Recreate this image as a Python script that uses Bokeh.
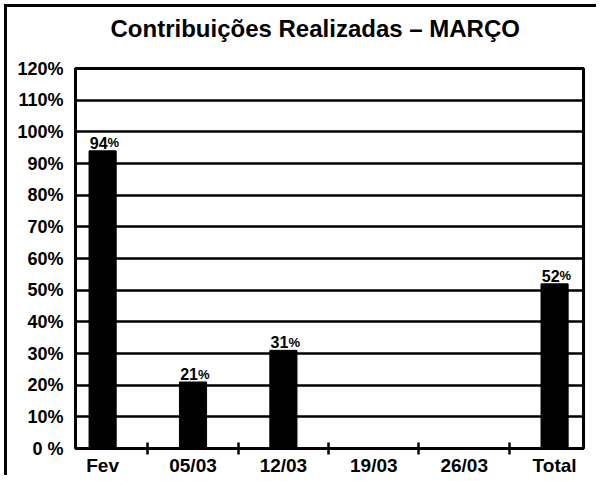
import math
from bokeh.plotting import figure
from bokeh.models import ColumnDataSource, FixedTicker, Range1d, Title
from bokeh.core.properties import value
from bokeh.embed import file_html
from bokeh.resources import INLINE

# ---- data ----
title_text = "Contribuições Realizadas – MARÇO"
categories = ["Fev", "05/03", "12/03", "19/03", "26/03", "Total"]
percent_values = [94, 21, 31, float("nan"), float("nan"), 52]
y_ticks = [0, 10, 20, 30, 40, 50, 60, 70, 80, 90, 100, 110, 120]
y_tick_labels = ["0 %", "10%", "20%", "30%", "40%", "50%", "60%",
                 "70%", "80%", "90%", "100%", "110%", "120%"]

FONT = "Liberation Sans"

idx = list(range(len(categories)))
src = ColumnDataSource(dict(x=idx, top=percent_values))

lx = [i for i, v in zip(idx, percent_values) if not math.isnan(v)]
lv = [v for v in percent_values if not math.isnan(v)]
lab_src = ColumnDataSource(dict(x=lx, y=lv,
                                num=[str(int(v)) for v in lv],
                                pct=["%"] * len(lv)))

p = figure(width=592, height=471, output_backend="svg", toolbar_location=None,
           title=None,
           x_range=Range1d(-0.30, 5.32), y_range=Range1d(0, 120),
           min_border_left=68, min_border_right=16,
           min_border_top=61, min_border_bottom=28)

p.styles = {"border-left": "3px solid black", "border-top": "3px solid black",
            "margin-left": "4px", "margin-top": "4px"}

# spacer (closest to the frame) then the real title above it
p.add_layout(Title(text=" ", text_font=FONT, text_font_size="16px",
                   standoff=8), "above")
p.add_layout(Title(text=title_text, text_font=FONT, text_font_style="bold",
                   text_font_size="24px", text_color="black",
                   align="left", offset=35, standoff=0), "above")

p.outline_line_color = "black"
p.outline_line_width = 3
p.background_fill_color = "white"
p.border_fill_color = "white"

p.xgrid.grid_line_color = None
p.ygrid.ticker = FixedTicker(ticks=y_ticks)
p.ygrid.grid_line_color = "black"
p.ygrid.grid_line_width = 2.5

p.vbar(x="x", top="top", width=0.3, source=src,
       fill_color="black", line_color="black")

p.text(x="x", y="y", text="num", source=lab_src, x_offset=5, y_offset=-8,
       text_align="right", text_baseline="alphabetic",
       text_font=value(FONT), text_font_style="bold", text_font_size="16px",
       text_color="black")
p.text(x="x", y="y", text="pct", source=lab_src, x_offset=5, y_offset=-8,
       text_align="left", text_baseline="alphabetic",
       text_font=value(FONT), text_font_style="bold", text_font_size="13px",
       text_color="black")

# x axis
xa = p.xaxis[0]
xa.ticker = FixedTicker(ticks=idx, minor_ticks=[i + 0.5 for i in idx[:-1]])
xa.major_label_overrides = {i: c for i, c in zip(idx, categories)}
xa.major_tick_line_color = None
xa.major_tick_in = 0
xa.major_tick_out = 0
xa.minor_tick_line_color = "black"
xa.minor_tick_line_width = 2.5
xa.minor_tick_in = 6
xa.minor_tick_out = 6
xa.axis_line_color = "black"
xa.axis_line_width = 3
xa.major_label_standoff = 0
xa.major_label_text_font = FONT
xa.major_label_text_font_style = "bold"
xa.major_label_text_font_size = "19px"
xa.major_label_text_color = "black"

# y axis
ya = p.yaxis[0]
ya.ticker = FixedTicker(ticks=y_ticks)
ya.major_label_overrides = {t: l for t, l in zip(y_ticks, y_tick_labels)}
ya.major_tick_line_color = None
ya.major_tick_in = 0
ya.major_tick_out = 0
ya.minor_tick_line_color = None
ya.axis_line_color = "black"
ya.axis_line_width = 3
ya.major_label_standoff = 12
ya.major_label_text_font = FONT
ya.major_label_text_font_style = "bold"
ya.major_label_text_font_size = "18px"
ya.major_label_text_color = "black"

open("out.html", "w").write(file_html(p, INLINE))
